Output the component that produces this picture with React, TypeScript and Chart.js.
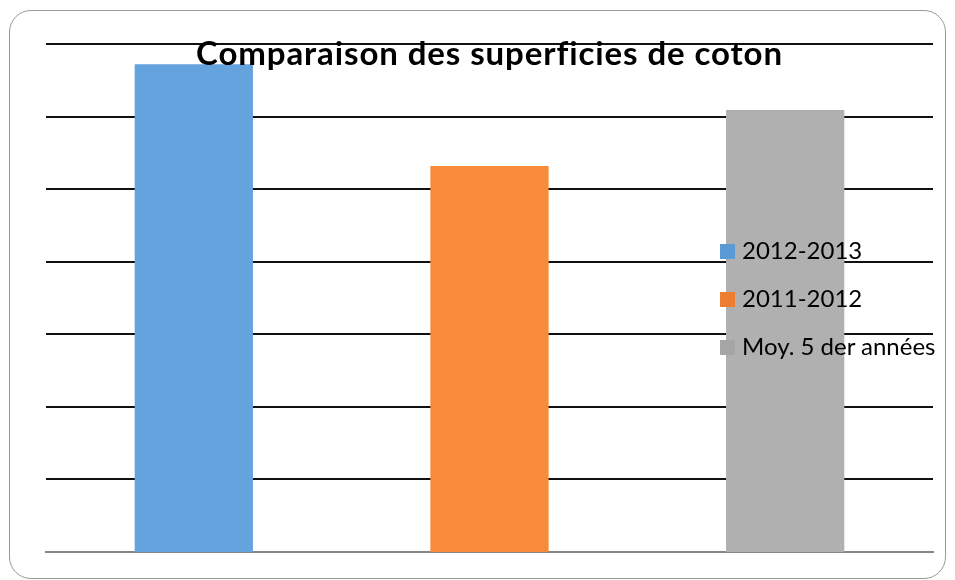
import React, { useEffect, useRef } from "react";
import { Chart, registerables } from "chart.js";

Chart.register(...registerables);

const title = "Comparaison des superficies de coton";
const categories = ["2012-2013", "2011-2012", "Moy. 5 der années"];
const values = [6.72, 5.32, 6.09];
const barColors = ["#65A3DE", "#F78B3A", "#B0B0B0"];
const legendColors = ["#5B9BD5", "#ED7D31", "#A5A5A5"];
const yMax = 7;
const yStep = 1;

const FONT = "Lato, 'Open Sans', sans-serif";

const gridPlugin = {
  id: "blackGrid",
  beforeDatasetsDraw(chart: any) {
    const { ctx, chartArea, scales } = chart;
    const y = scales.y;
    ctx.save();
    ctx.lineWidth = 2;
    ctx.strokeStyle = "#111111";
    y.ticks.forEach((t: any) => {
      if (t.value === 0) return;
      const py = Math.round(y.getPixelForValue(t.value));
      ctx.beginPath();
      ctx.moveTo(chartArea.left, py);
      ctx.lineTo(chartArea.right, py);
      ctx.stroke();
    });
    ctx.restore();
  },
};

export default function App() {
  const ref = useRef<HTMLCanvasElement | null>(null);

  useEffect(() => {
    if (!ref.current) return;
    const chart = new Chart(ref.current, {
      type: "bar",
      data: {
        labels: categories,
        datasets: [
          {
            label: title,
            data: values,
            backgroundColor: barColors,
            borderWidth: 0,
            categoryPercentage: 0.4,
            barPercentage: 1,
          },
        ],
      },
      options: {
        responsive: false,
        animation: false,
        layout: { padding: { left: 46, right: 22, top: 44, bottom: 28 } },
        plugins: {
          legend: { display: false },
          title: { display: false },
          tooltip: { enabled: false },
        },
        scales: {
          x: {
            ticks: { display: false },
            grid: { display: false, drawTicks: false },
            border: { display: true, color: "#868686", width: 2 },
          },
          y: {
            min: 0,
            max: yMax,
            ticks: { display: false, stepSize: yStep },
            grid: { display: false, drawTicks: false },
            border: { display: false },
          },
        },
      },
      plugins: [gridPlugin],
    });
    return () => chart.destroy();
  }, []);

  const legendFs = 24;
  const titleFs = 33;
  const baselines = [259, 307, 355];

  return (
    <div
      style={{
        position: "fixed",
        left: 0,
        top: 0,
        width: 955,
        height: 580,
        background: "#ffffff",
        overflow: "hidden",
      }}
    >
      <div
        style={{
          position: "absolute",
          left: 9,
          top: 10,
          width: 937,
          height: 569,
          boxSizing: "border-box",
          border: "1.5px solid #9a9a9a",
          borderRadius: 22,
        }}
      />
      <canvas
        ref={ref}
        width={955}
        height={580}
        style={{ position: "absolute", left: 0, top: 0, width: 955, height: 580 }}
      />
      <div
        style={{
          position: "absolute",
          left: 46,
          width: 887,
          top: 65 - 0.887 * titleFs,
          textAlign: "center",
          fontFamily: FONT,
          fontWeight: 700,
          fontSize: titleFs,
          lineHeight: titleFs + "px",
          letterSpacing: "0.9px",
          color: "#000",
          whiteSpace: "nowrap",
        }}
      >
        {title}
      </div>
      {categories.map((c, i) => (
        <React.Fragment key={c}>
          <div
            style={{
              position: "absolute",
              left: 720,
              top: baselines[i] - 15,
              width: 15,
              height: 15,
              background: legendColors[i],
            }}
          />
          <div
            style={{
              position: "absolute",
              left: 742,
              top: baselines[i] - 0.887 * legendFs,
              fontFamily: FONT,
              fontSize: legendFs,
              lineHeight: legendFs + "px",
              color: "#000",
              whiteSpace: "nowrap",
            }}
          >
            {c}
          </div>
        </React.Fragment>
      ))}
    </div>
  );
}
